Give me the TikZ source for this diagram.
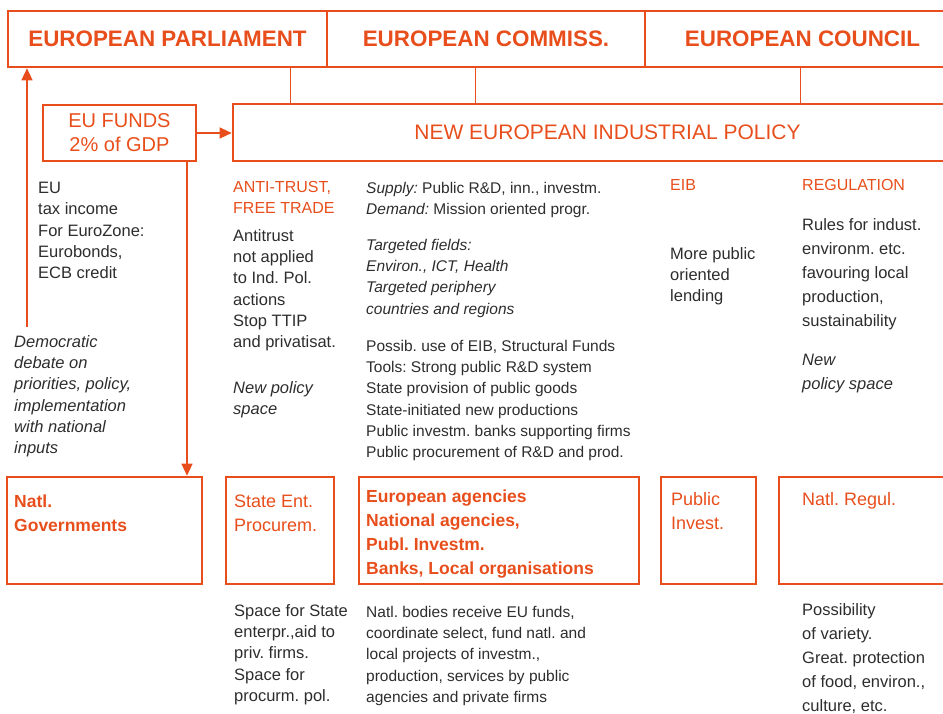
\documentclass[tikz,border=0pt]{standalone}
\usepackage{fontspec}
\setmainfont{Liberation Sans}
\usetikzlibrary{arrows.meta}
\definecolor{euorange}{RGB}{232,78,27}
\definecolor{eutext}{RGB}{45,45,45}
\frenchspacing

\begin{document}
\begin{tikzpicture}[x=1pt,y=-1pt]
    \tikzset{
        bigbox/.style = {draw=euorange, line width=2.6pt, inner sep=0pt},
        head/.style = {bigbox, minimum height=56pt, text=euorange, font=\fontsize{22.4}{26}\selectfont\bfseries},
        link/.style = {draw=euorange, line width=0.9pt},
        arrow/.style = {draw=euorange, line width=1.3pt, -{Triangle[length=12pt,width=11pt]}},
        txt/.style = {anchor=north west, inner sep=0pt, align=left, text=eutext, font=\fontsize{16.5}{21.3}\selectfont},
        midtxt/.style = {txt, font=\fontsize{15.5}{21.2}\selectfont},
        widetxt/.style = {txt, font=\fontsize{16.5}{24}\selectfont},
        orangetxt/.style = {txt, text=euorange, font=\fontsize{16}{21.3}\selectfont},
        boxtxt/.style = {txt, text=euorange, font=\fontsize{18}{24}\selectfont},
        boldtxt/.style = {txt, text=euorange, font=\fontsize{17.5}{24}\selectfont\bfseries}
    }
    \useasboundingbox (0,0) rectangle (943,713);
    % top row
    \node[head, minimum width=319pt] (parl) at (167.5,39) {EUROPEAN PARLIAMENT};
    \node[head, minimum width=318pt] (comm) at (486,39) {EUROPEAN COMMISS.};
    \node[head, minimum width=315pt] (counc) at (802.5,39) {EUROPEAN COUNCIL};
    \node[bigbox, minimum width=749pt, minimum height=57pt, text=euorange,
          font=\fontsize{21}{24}\selectfont] (policy) at (607.5,132.5) {NEW EUROPEAN INDUSTRIAL POLICY};
    \node[bigbox, minimum width=153pt, minimum height=56pt, align=center, text=euorange,
          font=\fontsize{20}{24}\selectfont] (funds) at (119.5,133) {EU FUNDS\\2\% of GDP};
    \draw[link] ([xshift=122.5pt]parl.south) -- ([xshift=-317.5pt]policy.north);
    \draw[link] ([xshift=-11pt]comm.south) -- ([xshift=-132.5pt]policy.north);
    \draw[link] ([xshift=-2.5pt]counc.south) -- ([xshift=192.5pt]policy.north);
    \draw[arrow] (funds.east) -- (funds.east -| policy.west);

    % columns
    \node[txt] (eutax) at (38,182) {EU\\tax income\\For EuroZone:\\Eurobonds,\\ECB credit};
    \node[txt, font=\fontsize{16.5}{21.3}\selectfont\itshape] (debate) at (14,335)
        {Democratic\\debate on\\priorities, policy,\\implementation\\with national\\inputs};
    \coordinate (debtop) at (27,327);
    \draw[arrow] (debtop) -- (debtop |- parl.south);

    \node[orangetxt] (trust) at (233,181) {ANTI-TRUST,\\FREE TRADE};
    \node[txt] (antitrust) at (233,229) {Antitrust\\not applied\\to Ind. Pol.\\actions\\Stop TTIP\\and privatisat.};
    \node[txt, font=\fontsize{16.5}{21.3}\selectfont\itshape] (newspace) at (233,381) {New policy\\space};

    \node[midtxt] (supply) at (366,182) {\textit{Supply:} Public R\&D, inn., investm.\\\textit{Demand:} Mission oriented progr.};
    \node[midtxt, font=\fontsize{15.5}{21.2}\selectfont\itshape] (fields) at (366,239)
        {Targeted fields:\\Environ., ICT, Health\\Targeted periphery\\countries and regions};
    \node[midtxt] (tools) at (366,340) {Possib. use of EIB, Structural Funds\\Tools: Strong public R\&D system\\State provision of public goods\\State-initiated new productions\\Public investm. banks supporting firms\\Public procurement of R\&D and prod.};

    \node[orangetxt] (eib) at (670,179) {EIB};
    \node[txt] (lending) at (670,247) {More public\\oriented\\lending};

    \node[orangetxt] (regul) at (802,179) {REGULATION};
    \node[widetxt] (rules) at (802,218) {Rules for indust.\\environm. etc.\\favouring local\\production,\\sustainability};
    \node[widetxt, font=\fontsize{16.5}{24}\selectfont\itshape] (newspace2) at (802,354) {New\\policy space};

    % bottom row
    \node[bigbox, minimum width=195pt, minimum height=107pt] (govt) at (104.5,530.5) {};
    \node[bigbox, minimum width=108pt, minimum height=107pt] (stateent) at (280,530.5) {};
    \node[bigbox, minimum width=280pt, minimum height=107pt] (agencies) at (499,530.5) {};
    \node[bigbox, minimum width=95pt, minimum height=107pt] (pubinv) at (708.5,530.5) {};
    \node[bigbox, minimum width=181pt, minimum height=107pt] (natreg) at (869.5,530.5) {};
    \draw[arrow] ([xshift=67.5pt]funds.south) -- ([xshift=82.5pt]govt.north);

    \node[boldtxt] (govttxt) at (14,495) {Natl.\\Governments};
    \node[boxtxt] (statetxt) at (234,495) {State Ent.\\Procurem.};
    \node[boldtxt] (agentxt) at (366,490) {European agencies\\National agencies,\\Publ. Investm.\\Banks, Local organisations};
    \node[boxtxt] (pubtxt) at (671,492) {Public\\Invest.};
    \node[boxtxt] (regtxt) at (802,492) {Natl. Regul.};

    \node[txt] (spacestate) at (234,604) {Space for State\\enterpr.,aid to\\priv. firms.\\Space for\\procurm. pol.};
    \node[midtxt] (bodies) at (366,606) {Natl. bodies receive EU funds,\\coordinate select, fund natl. and\\local projects of investm.,\\production, services by public\\agencies and private firms};
    \node[widetxt] (variety) at (802,603) {Possibility\\of variety.\\Great. protection\\of food, environ.,\\culture, etc.};
\end{tikzpicture}
\end{document}
